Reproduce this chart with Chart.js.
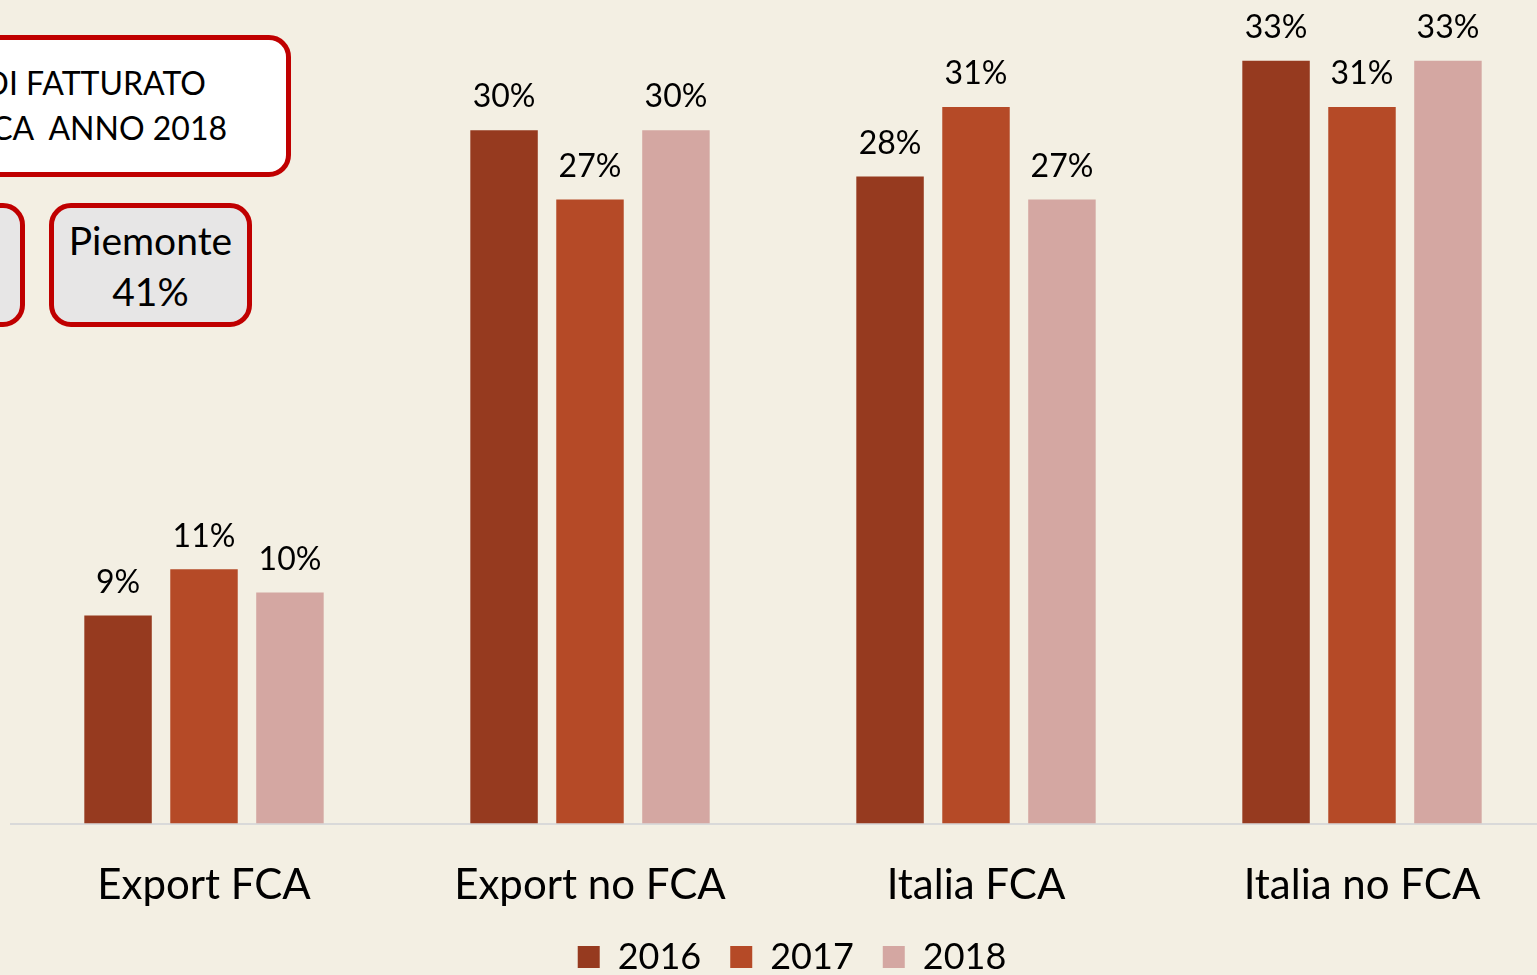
<!DOCTYPE html>
<html>
<head>
<meta charset="utf-8">
<script src="https://cdn.jsdelivr.net/npm/chart.js@4.4.1/dist/chart.umd.min.js"></script>
<style>
    html, body { margin: 0; padding: 0; overflow: hidden; background: #F3EFE3; }
    #wrap { position: relative; width: 1618px; height: 1000px; }
    .box { position: absolute; box-sizing: border-box; border: 5px solid #C00000; border-radius: 22px; overflow: hidden; font-family: Lato, sans-serif; color: #000; }
    .line { position: absolute; white-space: nowrap; }
</style>
</head>
<body>
<div id="wrap">
    <canvas id="fatturato-chart" width="1618" height="1000"></canvas>

    <div class="box" style="left:-40px; top:35px; width:331px; height:142px; background:#FFFFFF;">
        <div class="line" style="right:80px; top:23px; font-size:32px;">DI FATTURATO</div>
        <div class="line" style="right:59px; top:68px; font-size:32px;">CA&nbsp; ANNO 2018</div>
    </div>
    <div class="box" style="left:-60px; top:203px; width:85px; height:124px; background:#E7E6E6;"></div>
    <div class="box" style="left:49px; top:203px; width:203px; height:124px; background:#E7E6E6; text-align:center; font-size:39px; line-height:51px; padding-top:7px;">
        Piemonte<br>41%
    </div>
</div>
<script>
var categories = ['Export FCA', 'Export no FCA', 'Italia FCA', 'Italia no FCA'];
var years = ['2016', '2017', '2018'];
var values2016 = [9, 30, 28, 33];
var values2017 = [11, 27, 31, 31];
var values2018 = [10, 30, 27, 33];
var colors = ['#963A1F', '#B54A27', '#D4A7A2'];

const fatturatoChart = document.getElementById('fatturato-chart');

// percent labels above each bar
const barLabels = {
    id: 'barLabels',
    afterDatasetsDraw(chart) {
        const ctx = chart.ctx;
        ctx.save();
        ctx.font = '32px Lato';
        ctx.fillStyle = '#000';
        ctx.textAlign = 'center';
        ctx.textBaseline = 'middle';
        chart.data.datasets.forEach((ds, i) => {
            chart.getDatasetMeta(i).data.forEach((bar, j) => {
                ctx.fillText(ds.data[j] + '%', bar.x, bar.y - 33);
            });
        });
        ctx.restore();
    }
};

// nudge the legend a little to the right
const legendShift = {
    id: 'legendShift',
    afterLayout(chart) {
        chart.legend.left += 9;
        chart.legend.right += 9;
    }
};

new Chart(fatturatoChart, {
    type: 'bar',
    data: {
        labels: categories,
        datasets: [
            { label: years[0], data: values2016, backgroundColor: colors[0] },
            { label: years[1], data: values2017, backgroundColor: colors[1] },
            { label: years[2], data: values2018, backgroundColor: colors[2] }
        ]
    },
    options: {
        responsive: false,
        animation: false,
        categoryPercentage: 0.668,
        barPercentage: 0.785,
        layout: {
            padding: { left: 11, right: 63, top: 14.6, bottom: 15 }
        },
        plugins: {
            tooltip: { enabled: false },
            legend: {
                position: 'bottom',
                labels: {
                    color: '#000',
                    font: { family: 'Lato', size: 36 },
                    boxWidth: 22,
                    boxHeight: 22,
                    padding: 29
                }
            }
        },
        scales: {
            x: {
                grid: { display: false, drawTicks: false },
                border: { display: true, color: '#D9D9D9', width: 2 },
                ticks: {
                    color: '#000',
                    font: { family: 'Lato', size: 42 },
                    padding: 37
                },
                afterFit: function (scale) {
                    scale.height = scale.height - 38;
                }
            },
            y: {
                display: false,
                min: 0,
                max: 35
            }
        }
    },
    plugins: [barLabels, legendShift]
});
</script>
</body>
</html>
